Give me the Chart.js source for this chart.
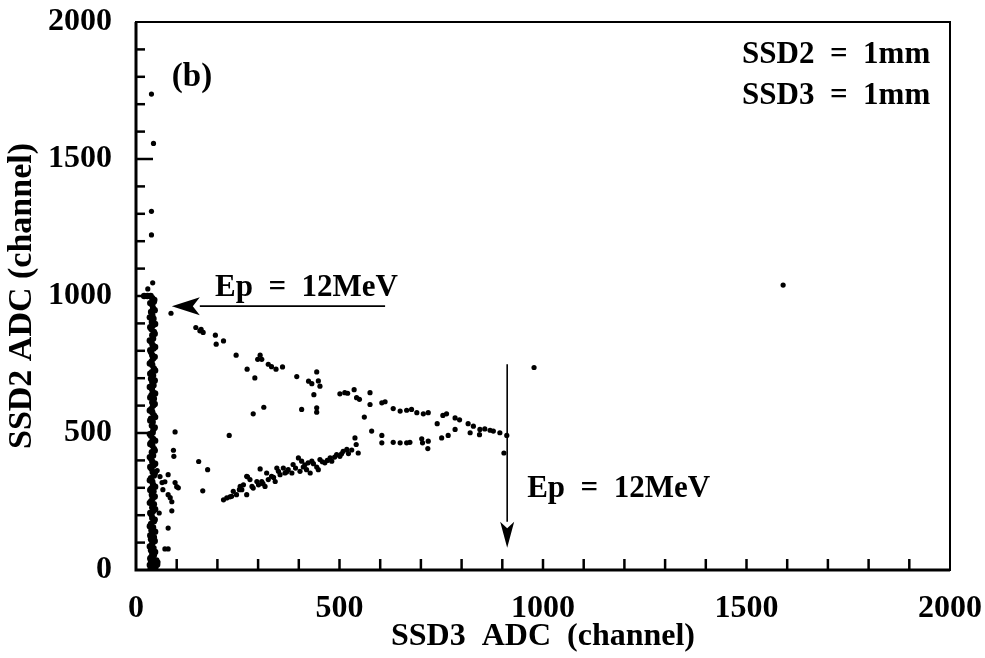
<!DOCTYPE html>
<html>
<head>
<meta charset="utf-8">
<script src="https://cdn.jsdelivr.net/npm/chart.js@4.4.1/dist/chart.umd.min.js"></script>
<style>
  html, body { margin: 0; padding: 0; background: #fff; }
  #wrap { width: 985px; height: 658px; }
</style>
</head>
<body>
<div id="wrap"><canvas id="grafico" width="985" height="658"></canvas></div>
<script>
// SSD2 vs SSD3 ADC, 1mm + 1mm detectors
const xTicks = [0, 500, 1000, 1500, 2000];
const yTicks = [0, 500, 1000, 1500, 2000];

// dense column of events stopping in SSD2 (low SSD3 channel)
const edgeBand = [
    [40,15],[44,22],[37,30],[42,38],[38,48],[44,55],[40,62],[37,72],[43,80],[39,92],
    [41,100],[37,112],[44,120],[40,133],[38,145],[42,155],[37,168],[44,178],[40,190],[38,203],
    [42,215],[40,228],[44,240],[37,250],[41,262],[39,275],[43,287],[38,298],[42,310],[40,322],
    [37,335],[44,345],[41,358],[38,370],[43,382],[40,395],[37,407],[42,418],[39,430],[44,442],
    [40,455],[38,466],[42,478],[37,490],[41,502],[43,515],[39,527],[41,540],[37,552],[44,564],
    [40,576],[38,588],[42,600],[40,612],[44,625],[38,637],[41,650],[39,662],[43,674],[40,686],
    [37,698],[42,710],[39,722],[44,735],[40,748],[38,760],[42,772],[40,784],[37,796],[43,808],
    [41,820],[38,832],[42,845],[40,857],[44,869],[38,880],[41,892],[39,905],[43,917],[40,930],
    [37,942],[42,955],[40,968],[44,980],[40,992],[36,1000],[28,1000],[20,1000],
    [46,28],[48,12],[34,18],[50,35],[45,8]
];
const edgeBandFill = [
    [46,18],[35,42],[47,66],[34,86],[46,106],[35,126],[47,140],[34,160],[46,184],[35,208],
    [47,222],[34,245],[46,268],[35,292],[47,304],[34,328],[46,352],[35,376],[47,388],[34,412],
    [46,436],[35,460],[47,472],[34,496],[46,520],[35,546],[47,558],[34,582],[46,606],[35,630],
    [47,644],[34,668],[46,692],[35,716],[47,728],[34,754],[46,778],[35,802],[47,814],[34,838],
    [46,862],[35,886],[47,898],[34,922],[46,948],[35,974],[45,986],[40,6],[52,20],[36,4]
];

// punch-through branch, falling from ~950 towards the 12MeV corner
const upperBranch = [
    [86,937],[147,885],[157,873],[165,867],[195,857],[197,824],[215,836],[246,784],[273,733],[292,701],
    [299,769],[305,784],[309,769],[325,751],[333,742],[344,733],[360,741],[395,706],[424,689],[432,680],
    [444,723],[448,690],[452,671],[437,640],[444,592],[444,576],[501,643],[513,647],[536,658],[542,629],
    [549,623],[575,647],[575,604],[604,610],[612,614],[632,589],[649,580],[677,586],[690,574],[706,570],
    [718,574],[754,564],[763,570],[784,555],[740,534],[816,534],[829,525],[845,513],[857,515],[878,507],
    [894,501],[911,491],[904,427],[160,878],[520,645],[665,583],[795,548],[870,510]
];

// rising branch of protons stopping in SSD3
const lowerBranch = [
    [215,256],[223,263],[235,269],[247,275],[260,293],[272,275],[274,340],[288,299],[301,311],[309,323],
    [317,305],[325,330],[333,342],[342,323],[354,348],[366,354],[374,366],[383,354],[399,409],[407,397],
    [411,376],[419,366],[423,391],[432,397],[444,376],[452,403],[464,391],[477,409],[481,397],[493,421],
    [501,415],[509,433],[518,440],[522,425],[538,482],[541,458],[546,427],[305,369],[403,360],[448,366],
    [428,354],[321,354],[280,330],[297,323],[346,372],[362,372],[386,385],[256,305],[264,311],[239,287],
    [231,267],[254,293],[272,342],[285,305],[312,315],[338,338],[350,360],[370,358],[392,372],[415,384],
    [436,388],[458,395],[470,400],[488,412],[505,424],[530,438],
    [561,558],[579,507],[604,491],[604,464],[632,466],[649,464],[665,464],[673,466],[702,479],[704,464],
    [718,470],[717,443],[751,482],[767,491],[784,513],[821,501],[844,494]
];

// scattered single hits
const strayPoints = [
    [38,1737],[43,1557],[38,1309],[38,1223],[41,1048],[29,1026],
    [96,504],[92,437],[93,415],[154,396],[176,366],[164,289],[229,491],[288,570],[314,594],[407,586],
    [52,363],[59,341],[64,319],[79,348],[71,322],[66,293],[96,319],[100,304],[104,300],[79,275],
    [84,264],[88,249],[88,216],[57,208],[79,153],[71,77],[79,77],[54,29],
    [978,739],[1590,1040]
];

// annotation positions in channel units
const arrowTop = { from: [612, 963], to: [88, 963] };
const arrowSide = { from: [912, 751], to: [912, 81] };
const notes = [
    { text: '(b)', x: 88, y: 1766, size: 33 },
    { text: 'SSD2  =  1mm', x: 1489, y: 1852, size: 31 },
    { text: 'SSD3  =  1mm', x: 1489, y: 1700, size: 31 },
    { text: 'Ep  =  12MeV', x: 194, y: 1000, size: 31 },
    { text: 'Ep  =  12MeV', x: 961, y: 267, size: 31 }
];

const serif = "'Liberation Serif', 'Times New Roman', serif";

function arrow(c, x1, y1, x2, y2, headLen, headHalf) {
    const ang = Math.atan2(y2 - y1, x2 - x1);
    const bx = x2 - headLen * Math.cos(ang);
    const by = y2 - headLen * Math.sin(ang);
    c.beginPath();
    c.moveTo(x1, y1);
    c.lineTo(bx, by);
    c.stroke();
    c.beginPath();
    c.moveTo(x2, y2);
    c.lineTo(bx + headHalf * Math.sin(ang), by - headHalf * Math.cos(ang));
    c.lineTo(x2 - headLen * 0.75 * Math.cos(ang), y2 - headLen * 0.75 * Math.sin(ang));
    c.lineTo(bx - headHalf * Math.sin(ang), by + headHalf * Math.cos(ang));
    c.closePath();
    c.fill();
}

const framePlugin = {
    id: 'frame',
    afterDraw(chart) {
        const c = chart.ctx;
        const a = chart.chartArea;
        const sx = chart.scales.x;
        const sy = chart.scales.y;
        c.save();
        c.strokeStyle = '#000';
        c.fillStyle = '#000';

        // box
        c.lineWidth = 2;
        c.strokeRect(a.left, a.top, a.right - a.left, a.bottom - a.top);
        c.lineWidth = 3;
        c.beginPath();
        c.moveTo(a.left, a.top);
        c.lineTo(a.left, a.bottom);
        c.lineTo(a.right, a.bottom);
        c.stroke();

        // inward ticks every 100 channels
        c.lineWidth = 2.5;
        for (let v = 100; v < 2000; v += 100) {
            const px = sx.getPixelForValue(v);
            c.beginPath();
            c.moveTo(px, a.bottom);
            c.lineTo(px, a.bottom - 11);
            c.stroke();
            const py = sy.getPixelForValue(v);
            const len = v % 500 === 0 ? 17 : 9;
            c.beginPath();
            c.moveTo(a.left, py);
            c.lineTo(a.left + len, py);
            c.stroke();
        }

        // 12MeV markers
        c.lineWidth = 1.6;
        arrow(c, sx.getPixelForValue(arrowTop.from[0]), sy.getPixelForValue(arrowTop.from[1]),
            sx.getPixelForValue(arrowTop.to[0]), sy.getPixelForValue(arrowTop.to[1]), 28, 9);
        arrow(c, sx.getPixelForValue(arrowSide.from[0]), sy.getPixelForValue(arrowSide.from[1]),
            sx.getPixelForValue(arrowSide.to[0]), sy.getPixelForValue(arrowSide.to[1]), 26, 7);

        c.textAlign = 'left';
        c.textBaseline = 'alphabetic';
        notes.forEach(n => {
            c.font = `bold ${n.size}px ${serif}`;
            c.fillText(n.text, sx.getPixelForValue(n.x), sy.getPixelForValue(n.y));
        });
        c.restore();
    }
};

const estilo = {
    pointStyle: 'circle',
    pointRadius: 2.6,
    backgroundColor: '#000',
    borderColor: '#000',
    borderWidth: 0
};

const ponto = p => ({ x: p[0], y: p[1] });

const ctx = document.getElementById('grafico').getContext('2d');
const chart = new Chart(ctx, {
    type: 'scatter',
    data: {
        datasets: [
            { label: 'band', data: edgeBand.map(ponto), ...estilo, pointRadius: 3.2 },
            { label: 'band fill', data: edgeBandFill.map(ponto), ...estilo, pointRadius: 3.2 },
            { label: 'upper', data: upperBranch.map(ponto), ...estilo },
            { label: 'lower', data: lowerBranch.map(ponto), ...estilo },
            { label: 'stray', data: strayPoints.map(ponto), ...estilo }
        ]
    },
    options: {
        responsive: false,
        animation: false,
        devicePixelRatio: 1,
        layout: { padding: { top: 22, right: 35, left: 0, bottom: 0 } },
        scales: {
            x: {
                type: 'linear',
                min: 0,
                max: 2000,
                afterBuildTicks: s => { s.ticks = xTicks.map(v => ({ value: v })); },
                afterFit: s => { s.height = 88; s.paddingLeft = 0; s.paddingRight = 0; },
                grid: { display: false },
                border: { display: false },
                ticks: {
                    color: '#000',
                    font: { family: serif, size: 32, weight: 'bold' },
                    padding: 12,
                    maxRotation: 0,
                    autoSkip: false,
                    callback: v => String(v)
                },
                title: {
                    display: true,
                    text: 'SSD3  ADC  (channel)',
                    color: '#000',
                    font: { family: serif, size: 32, weight: 'bold' },
                    padding: { top: 0, bottom: 2 }
                }
            },
            y: {
                type: 'linear',
                min: 0,
                max: 2000,
                afterBuildTicks: s => { s.ticks = yTicks.map(v => ({ value: v })); },
                afterFit: s => { s.width = 136; s.paddingTop = 0; s.paddingBottom = 0; },
                grid: { display: false },
                border: { display: false },
                ticks: {
                    color: '#000',
                    font: { family: serif, size: 32, weight: 'bold' },
                    padding: 16,
                    callback: v => String(v)
                },
                title: {
                    display: true,
                    text: 'SSD2 ADC (channel)',
                    color: '#000',
                    font: { family: serif, size: 34, weight: 'bold' },
                    padding: { top: 2, bottom: 0 }
                }
            }
        },
        plugins: {
            legend: { display: false },
            tooltip: { enabled: false }
        }
    },
    plugins: [framePlugin]
});
</script>
</body>
</html>
